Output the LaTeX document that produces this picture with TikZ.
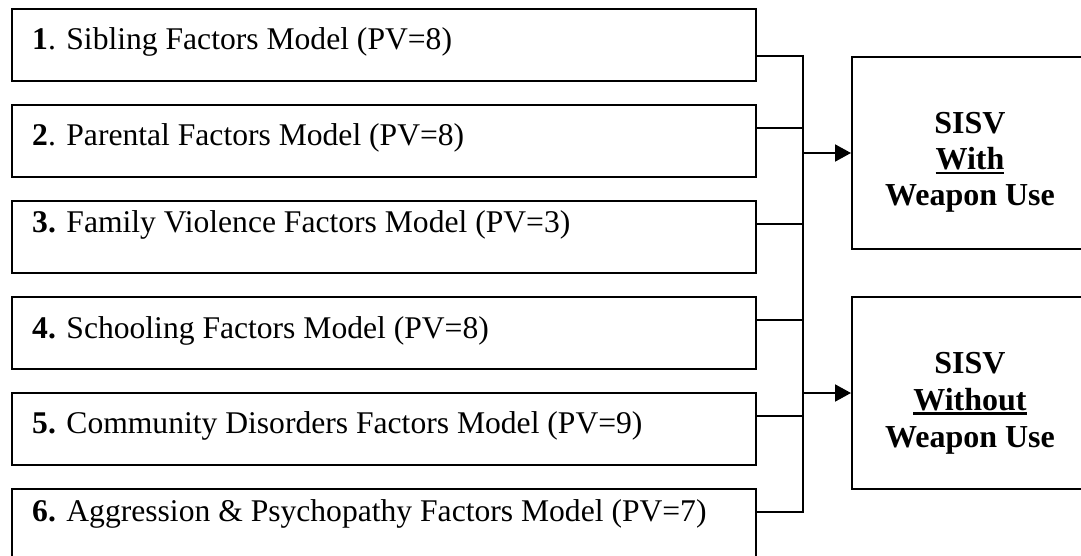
\documentclass[tikz,border=0pt]{standalone}
\usepackage{fontspec}
\setmainfont{Liberation Serif}
\usetikzlibrary{arrows.meta}
\newcommand\myul[1]{\setbox0\hbox{#1}\rlap{\rule[-4.5pt]{\wd0}{2.6pt}}\box0}
\begin{document}
\begin{tikzpicture}[x=1pt,y=-1pt,
  leftbox/.style={draw,line width=2pt,minimum width=744pt,minimum height=72pt,inner sep=0pt,anchor=north west},
  rightbox/.style={draw,line width=2pt,minimum width=239pt,minimum height=192pt,inner sep=0pt,anchor=north west},
  lbl/.style={anchor=base west,inner sep=0pt,font=\fontsize{31.6}{36}\selectfont},
  rlbl/.style={anchor=base,inner sep=0pt,font=\fontsize{32}{36}\selectfont\bfseries},
  conn/.style={line width=2pt},
  arr/.style={line width=2pt,-{Triangle[length=16pt,width=17pt]}}]
\useasboundingbox (0,0) rectangle (1081,556);
\clip (0,0) rectangle (1081,556);
% left boxes
\node[leftbox] (b1) at (11,8) {};
\node[leftbox] (b2) at (11,104) {};
\node[leftbox] (b3) at (11,200) {};
\node[leftbox] (b4) at (11,296) {};
\node[leftbox] (b5) at (11,392) {};
\node[leftbox] (b6) at (11,488) {};
\node[lbl] (t1) at (32,50) {\textbf{1}. Sibling Factors Model (PV=8)};
\node[lbl] (t2) at (32,146) {\textbf{2}. Parental Factors Model (PV=8)};
\node[lbl] (t3) at (32,232) {\textbf{3.} Family Violence Factors Model (PV=3)};
\node[lbl] (t4) at (32,338) {\textbf{4.} Schooling Factors Model (PV=8)};
\node[lbl] (t5) at (32,433) {\textbf{5.} Community Disorders Factors Model (PV=9)};
\node[lbl] (t6) at (32,521) {\textbf{6.} Aggression \& Psychopathy Factors Model (PV=7)};
% right boxes
\node[rightbox] (ra) at (851,56) {};
\node[rightbox] (rb) at (851,296) {};
\node[rlbl] (ra1) at (970,134) {SISV};
\node[rlbl] (ra2) at (970,170) {\myul{With}};
\node[rlbl] (ra3) at (970,206) {Weapon Use};
\node[rlbl] (rb1) at (970,373) {SISV};
\node[rlbl] (rb2) at (970,410) {\myul{Without}};
\node[rlbl] (rb3) at (970,447) {Weapon Use};
% bus coordinates
\coordinate (c1) at (803,56);
\coordinate (c2) at (803,128);
\coordinate (c3) at (803,224);
\coordinate (c4) at (803,320);
\coordinate (c5) at (803,416);
\coordinate (c6) at (803,512);
\draw[conn] (b1.east |- c1) -- (c1);
\draw[conn] (b2.east |- c2) -- (c2);
\draw[conn] (b3.east |- c3) -- (c3);
\draw[conn] (b4.east |- c4) -- (c4);
\draw[conn] (b5.east |- c5) -- (c5);
\draw[conn] (b6.east |- c6) -- (c6);
\draw[conn] ([yshift=1pt]c1) -- ([yshift=-1pt]c6);
\draw[arr] (c1 |- ra.west) -- (ra.west);
\draw[arr] (c1 |- rb.west) -- (rb.west);
\end{tikzpicture}
\end{document}
